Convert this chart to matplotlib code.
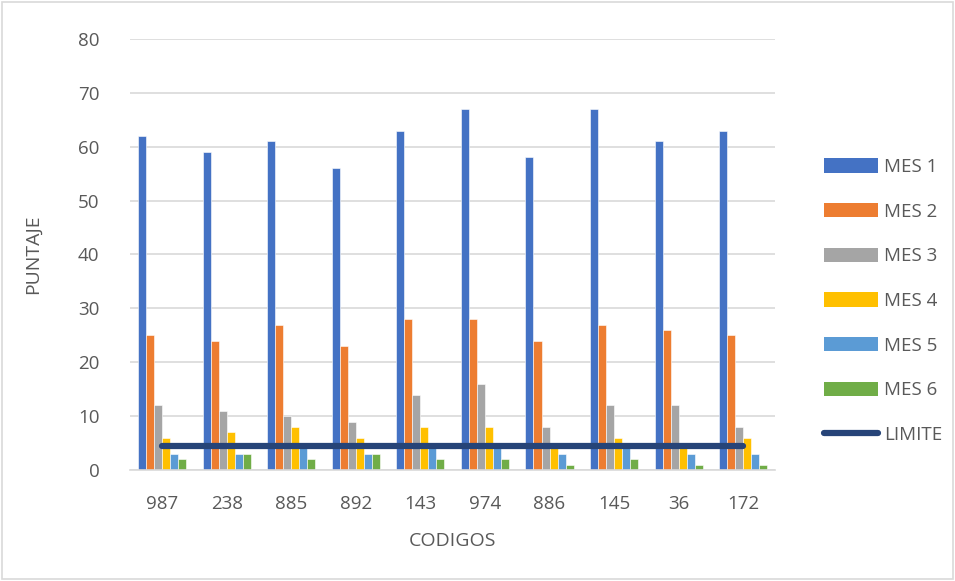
import matplotlib.pyplot as plt
from matplotlib.patches import Rectangle, Patch
from matplotlib.lines import Line2D
import numpy as np

plt.rcParams['font.family'] = ['Open Sans', 'DejaVu Sans']

codigos = ['987', '238', '885', '892', '143', '974', '886', '145', '36', '172']
mes1 = [62, 59, 61, 56, 63, 67, 58, 67, 61, 63]
mes2 = [25, 24, 27, 23, 28, 28, 24, 27, 26, 25]
mes3 = [12, 11, 10, 9, 14, 16, 8, 12, 12, 8]
mes4 = [6, 7, 8, 6, 8, 8, 4, 6, 4, 6]
mes5 = [3, 3, 4, 3, 4, 4, 3, 4, 3, 3]
mes6 = [2, 3, 2, 3, 2, 2, 1, 2, 1, 1]
limite = [4.5] * 10

series = [mes1, mes2, mes3, mes4, mes5, mes6]
nombres = ['MES 1', 'MES 2', 'MES 3', 'MES 4', 'MES 5', 'MES 6']
colores = ['#4472C4', '#ED7D31', '#A5A5A5', '#FFC000', '#5B9BD5', '#70AD47']
gris = '#595959'

fig = plt.figure(figsize=(9.55, 5.81), dpi=100)
ax = fig.add_axes([0.136, 0.191, 0.676, 0.742])

x = np.arange(len(codigos))
ancho = 0.124
for i, (vals, col) in enumerate(zip(series, colores)):
    ax.bar(x + (i - 2.5) * ancho, vals, width=ancho, color=col,
           edgecolor='white', linewidth=0.4, zorder=2)

ax.plot(x, limite, color='#264478', linewidth=4.5, solid_capstyle='round', zorder=3)

ax.set_xlim(-0.5, len(codigos) - 0.5)
ax.set_ylim(0, 80)
ax.set_yticks(range(0, 81, 10))
ax.set_xticks(x)
ax.set_xticklabels(codigos)
ax.yaxis.grid(True, color='#D9D9D9', linewidth=1.2, zorder=0)
ax.set_axisbelow(True)
for s in ['top', 'right', 'left']:
    ax.spines[s].set_visible(False)
ax.spines['bottom'].set_color('#D9D9D9')
ax.spines['bottom'].set_linewidth(1.2)
ax.tick_params(axis='both', length=0, labelsize=13.5, colors=gris)
ax.tick_params(axis='x', pad=18)
ax.tick_params(axis='y', pad=22)
ax.set_ylabel('PUNTAJE', fontsize=14, color=gris, labelpad=26)
ax.set_xlabel('CODIGOS', fontsize=14, color=gris, labelpad=14)

handles = [Patch(facecolor=c, label=n) for c, n in zip(colores, nombres)]
handles.append(Line2D([0], [0], color='#264478', linewidth=4.5,
                      solid_capstyle='round', label='LIMITE'))
fig.legend(handles=handles, loc='center left', bbox_to_anchor=(0.845, 0.482),
           frameon=False, fontsize=13.5, labelcolor=gris, handlelength=2.9,
           handleheight=0.8, labelspacing=1.42, handletextpad=0.3)

fig.patches.append(Rectangle((0.002, 0.003), 0.996, 0.994, transform=fig.transFigure,
                             fill=False, edgecolor='#D9D9D9', linewidth=1.2))

fig.savefig('out.png', dpi=100, facecolor='white')
